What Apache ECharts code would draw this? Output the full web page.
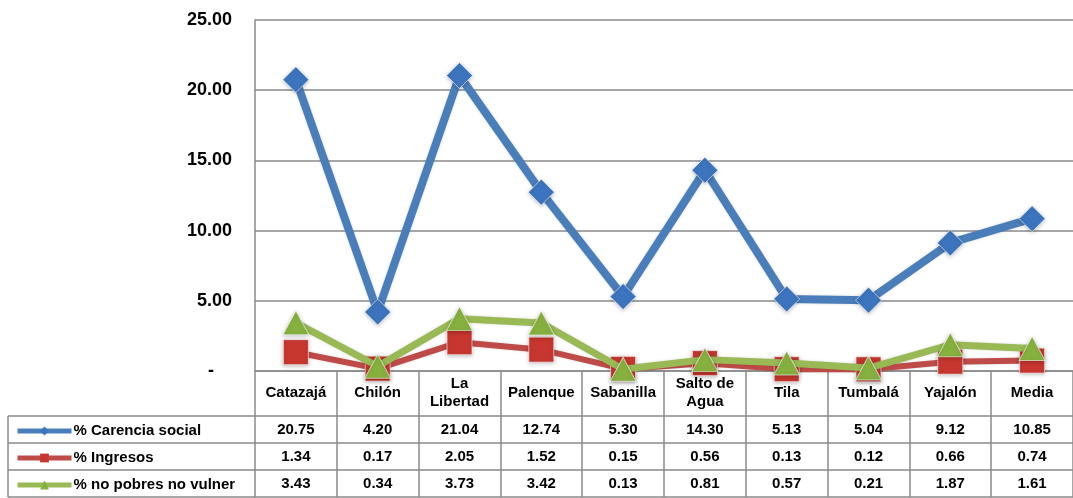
<!DOCTYPE html>
<html><head><meta charset="utf-8">
<script src="https://cdn.jsdelivr.net/npm/echarts@6/dist/echarts.min.js"></script>
<style>html,body{margin:0;padding:0;background:#fff}#c{width:1073px;height:498px}</style>
</head><body><div id="c"></div>
<script>
const categories = ['Catazajá','Chilón','La\nLibertad','Palenque','Sabanilla','Salto de\nAgua','Tila','Tumbalá','Yajalón','Media'];
const seriesNames = ['% Carencia social','% Ingresos','% no pobres no vulner'];
const carencia = [20.75,4.20,21.04,12.74,5.30,14.30,5.13,5.04,9.12,10.85];
const ingresos = [1.34,0.17,2.05,1.52,0.15,0.56,0.13,0.12,0.66,0.74];
const noPobres = [3.43,0.34,3.73,3.42,0.13,0.81,0.57,0.21,1.87,1.61];
const yTicks = [0,5,10,15,20,25];

const FONT = 'Liberation Sans, Arial, sans-serif';
const GRID_LEFT = 255, GRID_TOP = 20, GRID_H = 351, GRID_W = 820;
const LINE_C = '#8a8a8a';
const lineColors = ['#4A7EBB','#BE4B48','#98B954'];
const markColors = ['#3C75BE','#C7372F','#86B13E'];
const symbols = ['diamond','rect','triangle'];
const symbolSizes = [[26,26],[25,25],[26,24]];
const lineWidths = [8,6,7];
const allData = [carencia, ingresos, noPobres];

const chart = echarts.init(document.getElementById('c'), null, {renderer:'canvas'});

function valueAxis(vals, offset){
  return {
    type:'category', gridIndex:0, position:'bottom', offset: offset,
    data: vals.map(v=>v.toFixed(2)), boundaryGap:true,
    axisLine:{show:true, lineStyle:{color:LINE_C, width:1.5}},
    axisTick:{show:true, interval:0, length:27, lineStyle:{color:LINE_C, width:1.5}},
    axisLabel:{show:true, interval:0, margin:14, verticalAlign:'middle',
      fontFamily:FONT, fontWeight:'bold', fontSize:15, color:'#000'},
    splitLine:{show:false}
  };
}

const option = {
  animation:false,
  backgroundColor:'#fff',
  grid:{left:GRID_LEFT, top:GRID_TOP, height:GRID_H, width:GRID_W, containLabel:false},
  xAxis:[
    {type:'category', data:categories, boundaryGap:true, position:'bottom',
     axisLine:{show:true, lineStyle:{color:LINE_C, width:1.5}},
     axisTick:{show:true, interval:0, length:45, lineStyle:{color:LINE_C, width:1.5}},
     axisLabel:{interval:0, margin:22, verticalAlign:'middle', lineHeight:18,
       fontFamily:FONT, fontWeight:'bold', fontSize:15, color:'#000'}},
    valueAxis(carencia,45),
    valueAxis(ingresos,72),
    valueAxis(noPobres,99),
    {type:'category', gridIndex:0, position:'bottom', offset:126, data:categories,
     axisLine:{show:true, lineStyle:{color:LINE_C, width:1.5}},
     axisTick:{show:false}, axisLabel:{show:false}}
  ],
  yAxis:{type:'value', min:yTicks[0], max:yTicks[yTicks.length-1], interval:5,
    axisLine:{show:true, lineStyle:{color:LINE_C, width:1.5}},
    axisTick:{show:false},
    splitLine:{show:true, lineStyle:{color:LINE_C, width:1.5}},
    axisLabel:{margin:23, fontFamily:FONT, fontWeight:'bold', fontSize:18, color:'#000',
      formatter:v=> v===0 ? '{d|-}' : v.toFixed(2),
      rich:{d:{fontFamily:FONT, fontWeight:'bold', fontSize:18, color:'#000', padding:[0,18,0,0]}}}
  },
  legend: seriesNames.map((n,i)=>({
    data:[n], left:10, top:417 + i*27, orient:'vertical',
    itemWidth:54, itemHeight:11, itemGap:0,
    lineStyle:{width:5},
    itemStyle:{borderWidth:0, shadowBlur:0},
    textStyle:{fontFamily:FONT, fontWeight:'bold', fontSize:15, color:'#000', lineHeight:18, padding:[0,0,0,-3]},
    selectedMode:false
  })),
  graphic:[
    {type:'line', shape:{x1:8,y1:416,x2:GRID_LEFT,y2:416}, style:{stroke:LINE_C,lineWidth:1.5}},
    {type:'line', shape:{x1:8,y1:443,x2:GRID_LEFT,y2:443}, style:{stroke:LINE_C,lineWidth:1.5}},
    {type:'line', shape:{x1:8,y1:470,x2:GRID_LEFT,y2:470}, style:{stroke:LINE_C,lineWidth:1.5}},
    {type:'line', shape:{x1:8,y1:497,x2:GRID_LEFT,y2:497}, style:{stroke:LINE_C,lineWidth:1.5}},
    {type:'line', shape:{x1:8,y1:416,x2:8,y2:497}, style:{stroke:LINE_C,lineWidth:1.5}}
  ],
  series: seriesNames.map((n,i)=>({
    name:n, type:'line', data:allData[i], xAxisIndex:0, yAxisIndex:0,
    symbol:symbols[i], symbolSize:symbolSizes[i], showAllSymbol:true,
    lineStyle:{color:lineColors[i], width:lineWidths[i], shadowColor:'rgba(0,0,0,0.15)', shadowBlur:3},
    itemStyle:{color:markColors[i], borderColor:'rgba(255,255,255,0.6)', borderWidth:1,
      shadowColor:'rgba(0,0,0,0.25)', shadowBlur:4, shadowOffsetY:1},
    z:2+i
  }))
};
chart.setOption(option);
</script></body></html>
